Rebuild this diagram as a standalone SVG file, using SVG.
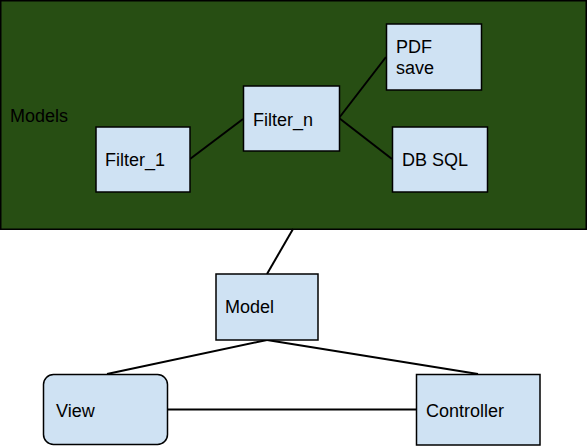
<svg xmlns="http://www.w3.org/2000/svg" width="587" height="446" viewBox="0 0 587 446">
<style>
.box{fill:#cfe2f3;stroke:#000;stroke-width:1.5}
.t{font-family:"Liberation Sans",Arial,sans-serif;font-size:18px;fill:#000}
.c{stroke:#000;stroke-width:2;fill:none}
</style>
<rect width="587" height="446" fill="#fff"/>
<g id="models">
<rect x="0.75" y="0.75" width="585.5" height="228.5" fill="#274e13" stroke="#000" stroke-width="1.5"/>
<text class="t" x="10" y="122">Models</text>
</g>
<g id="connectors">
<line class="c" x1="190" y1="159" x2="243" y2="119"/>
<line class="c" x1="339" y1="118" x2="386" y2="57"/>
<line class="c" x1="339" y1="118" x2="392" y2="159"/>
<line class="c" x1="293" y1="229" x2="267" y2="274"/>
<line class="c" x1="267" y1="340" x2="107" y2="374"/>
<line class="c" x1="267" y1="340" x2="478" y2="374"/>
<line class="c" x1="167" y1="409.5" x2="416" y2="409.5"/>
</g>
<g id="filter1">
<rect class="box" x="96" y="127" width="94" height="65"/>
<text class="t" x="105" y="166">Filter_1</text>
</g>
<g id="filtern">
<rect class="box" x="243.5" y="86" width="96" height="65"/>
<text class="t" x="253" y="126">Filter_n</text>
</g>
<g id="pdf">
<rect class="box" x="386.5" y="24" width="95" height="66"/>
<text class="t" x="396" y="53">PDF</text>
<text class="t" x="396" y="74">save</text>
</g>
<g id="dbsql">
<rect class="box" x="392.5" y="127" width="95" height="65"/>
<text class="t" x="402" y="166">DB SQL</text>
</g>
<g id="model">
<rect class="box" x="216" y="274" width="102" height="66"/>
<text class="t" x="225" y="313">Model</text>
</g>
<g id="view">
<rect class="box" x="43.5" y="374.5" width="124" height="70" rx="10"/>
<text class="t" x="56" y="417">View</text>
</g>
<g id="controller">
<rect class="box" x="416.5" y="374.5" width="123.5" height="70.5"/>
<text class="t" x="426" y="417">Controller</text>
</g>
</svg>
